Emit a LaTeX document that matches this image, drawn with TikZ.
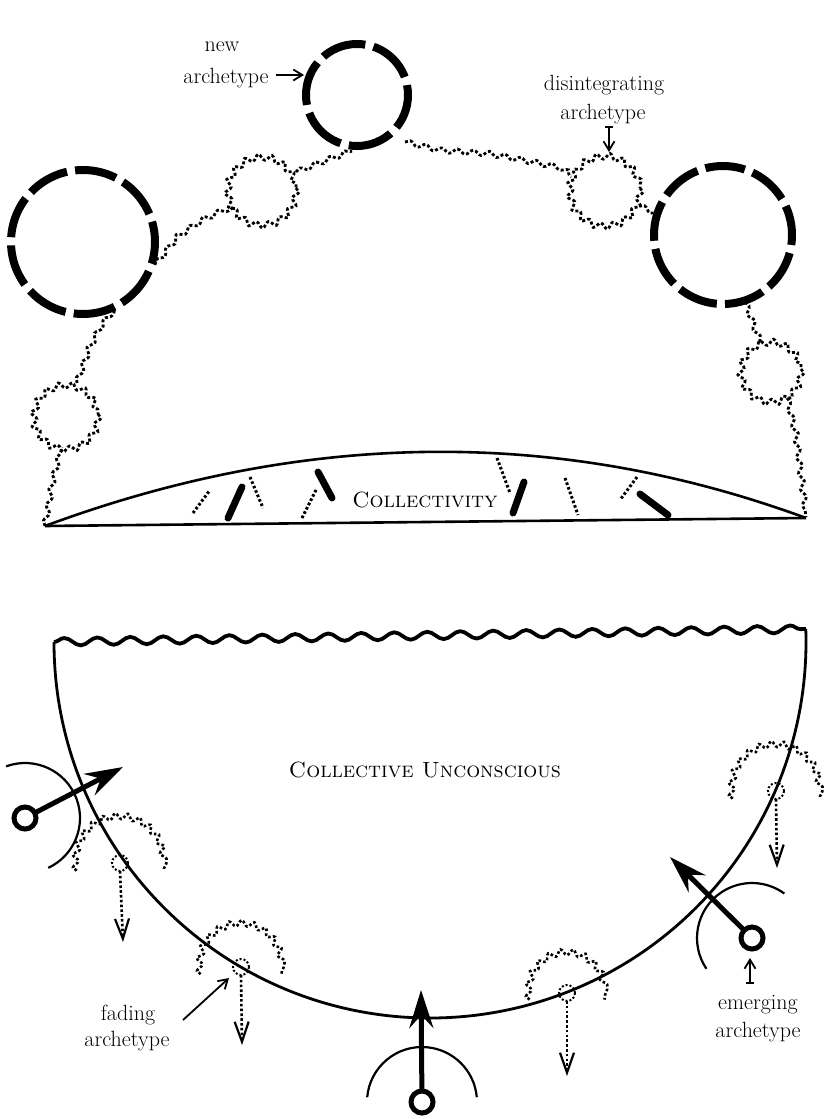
\documentclass[tikz,border=0pt]{standalone}
\usepackage{fontspec}
\usetikzlibrary{arrows.meta,decorations.pathmorphing}
\newcommand\scx[1]{{\addfontfeatures{LetterSpace=9}\textsc{#1}}}
\begin{document}
\begin{tikzpicture}[x=1pt,y=-1pt,
  every node/.style={font=\fontsize{22}{26}\selectfont\addfontfeatures{FakeBold=0.6}, inner sep=0pt, outer sep=0pt},
  bigdash/.style={line width=8pt},
  chain/.style={line width=2.8pt, dash pattern=on 3pt off 2.2pt, decorate, decoration={snake, amplitude=2.4pt, segment length=16pt}},
  wig/.style={line width=2.8pt, dash pattern=on 3pt off 2.2pt, decorate, decoration={snake, amplitude=3pt, segment length=13pt}},
  lens/.style={line width=2.6pt},
  thicktick/.style={line width=7pt, line cap=round},
  dottick/.style={line width=3pt, dash pattern=on 2.6pt off 2.2pt},
  bowl/.style={line width=2.8pt},
  wave/.style={line width=3.8pt, decorate, decoration={snake, amplitude=3.8pt, segment length=33pt}},
  ring/.style={circle, draw, line width=5pt, minimum size=22pt, inner sep=0pt},
  emarrow/.style={line width=5pt, -{Stealth[length=38pt,width=24pt,inset=13pt]}},
  emarc/.style={line width=2.2pt},
  fadecirc/.style={line width=2pt, dash pattern=on 2pt off 2pt},
  fadearc/.style={line width=2.6pt, dash pattern=on 2.6pt off 2.2pt, decorate, decoration={snake, amplitude=3pt, segment length=12pt}},
  fadearrow/.style={line width=2.6pt, dash pattern=on 2.6pt off 2.2pt, -{Straight Barb[length=20pt,width=14pt,line width=2.2pt]}},
  lblarrow/.style={line width=1.8pt, -{Straight Barb[length=9pt,width=11pt]}},
  tagarrow/.style={line width=1.8pt, {Bar[width=8pt]}-{Straight Barb[length=9pt,width=11pt]}}
]
\fill[white] (0,0) rectangle (828,1119);
\useasboundingbox (0,0) rectangle (828,1119);

% ---------- upper figure ----------
\coordinate (CL) at (83,242);
\coordinate (CT) at (357,95);
\coordinate (CR) at (723,235);
\draw[bigdash, dash pattern=on 42pt off 8.2pt, dash phase=20pt] (CL) circle[radius=72];
\draw[bigdash, dash pattern=on 45pt off 8.4pt, dash phase=10pt] (CT) circle[radius=51];
\draw[bigdash, dash pattern=on 40pt off 8.2pt, dash phase=30pt] (CR) circle[radius=69];

\coordinate (WL) at (66,414);
\coordinate (WUL) at (262,188);
\coordinate (WD) at (605,188);
\coordinate (WR) at (771,369);
\draw[wig] (WL) circle[radius=32];
\draw[wig] (WUL) circle[radius=34];
\draw[wig] (WD) circle[radius=35];
\draw[wig] (WR) circle[radius=30];

\draw[chain] (45,526) -- (52,485) -- (62,447);
\draw[chain] (77,383) -- (88,352) -- (99,331) -- (115,310);
\draw[chain] (155,265) -- (175,240) -- (205,220) -- (234,207);
\draw[chain] (296,172) -- (327,160) -- (352,151);
\draw[chain] (405,142) -- (440,150) -- (483,153) -- (520,160) -- (555,167) -- (571,177);
\draw[chain] (639,206) -- (656,213);
\draw[chain] (745,302) -- (752,320) -- (760,342);
\draw[chain] (787,398) -- (795,430) -- (800,470) -- (806,517);

% lens
\coordinate (LA) at (45,526);
\coordinate (LB) at (806,518);
\draw[lens] (LA) -- (LB);
\draw[lens] (LA) .. controls (304,430) and (558,427) .. (LB);

\draw[dottick] (193,513) -- (210,490);
\draw[thicktick] (228,518) -- (242,487);
\draw[dottick] (250,477) -- (263,508);
\draw[dottick] (302,518) -- (317,488);
\draw[thicktick] (318,472) -- (332,498);
\draw[dottick] (497,458) -- (510,493);
\draw[thicktick] (524,482) -- (513,513);
\draw[dottick] (565,478) -- (578,515);
\draw[dottick] (637,477) -- (620,500);
\draw[thicktick] (640,494) -- (668,515);

\node (lcol) at (425,500) {\scx{Collectivity}};

% labels upper
\node[anchor=base] (lnew) at (222,51) {new};
\node[anchor=base] (larch1) at (226,83) {archetype};
\coordinate (A1s) at (276,75);
\coordinate (A1e) at (304,75);
\draw[lblarrow] (A1s) -- (A1e);

\node[anchor=base] (ldis) at (604,90) {disintegrating};
\node[anchor=base] (larch2) at (603,119) {archetype};
\coordinate (A2s) at (609,126);
\coordinate (A2e) at (609,152);
\draw[tagarrow] (A2s) -- (A2e);

% ---------- lower figure ----------
\coordinate (BL) at (54,642);
\coordinate (BR) at (806,629);
\draw[wave] (BL) -- (BR);
\draw[bowl] (BL) arc[start angle=180, end angle=-2, radius=376];

\node (lcu) at (425,770) {\scx{Collective Unconscious}};

% emerging archetypes
\node[ring] (R1) at (25,818) {};
\coordinate (T1) at (123,767);
\draw[emarrow] (R1) -- (T1);
\draw[emarc] (R1.center) ++(-110:55) arc[start angle=-110, end angle=65, radius=55];

\node[ring] (R2) at (422,1102) {};
\coordinate (T2) at (421,990);
\draw[emarrow] (R2) -- (T2);
\draw[emarc] (R2.center) ++(185:55) arc[start angle=185, end angle=355, radius=55];

\node[ring] (R3) at (752,938) {};
\coordinate (T3) at (670,857);
\draw[emarrow] (R3) -- (T3);
\draw[emarc] (R3.center) ++(146:55) arc[start angle=146, end angle=306, radius=55];

% fading archetypes
\coordinate (F1) at (120,863);
\coordinate (F2) at (241,967);
\coordinate (F3) at (567,993);
\coordinate (F4) at (776,791);
\coordinate (D1) at (123,942);
\coordinate (D2) at (242,1045);
\coordinate (D3) at (567,1076);
\coordinate (D4) at (777,868);
\foreach \f/\d/\r in {F1/D1/44, F2/D2/41, F3/D3/38, F4/D4/44}{
  \draw[fadecirc] (\f) circle[radius=8];
  \draw[fadearc] (\f) ++(170:\r) arc[start angle=170, end angle=370, radius=\r];
  \draw[fadearrow] ([yshift=-8pt]\f) -- (\d);
}

% labels lower
\node[anchor=base] (lfad) at (128,1020) {fading};
\node[anchor=base] (larch3) at (127,1046) {archetype};
\coordinate (A3s) at (183,1020);
\coordinate (A3e) at (229,978);
\draw[lblarrow] (A3s) -- (A3e);

\node[anchor=base] (lemg) at (758,1009) {emerging};
\node[anchor=base] (larch4) at (758,1037) {archetype};
\coordinate (A4s) at (750,984);
\coordinate (A4e) at (750,958);
\draw[tagarrow] (A4s) -- (A4e);
\end{tikzpicture}
\end{document}
